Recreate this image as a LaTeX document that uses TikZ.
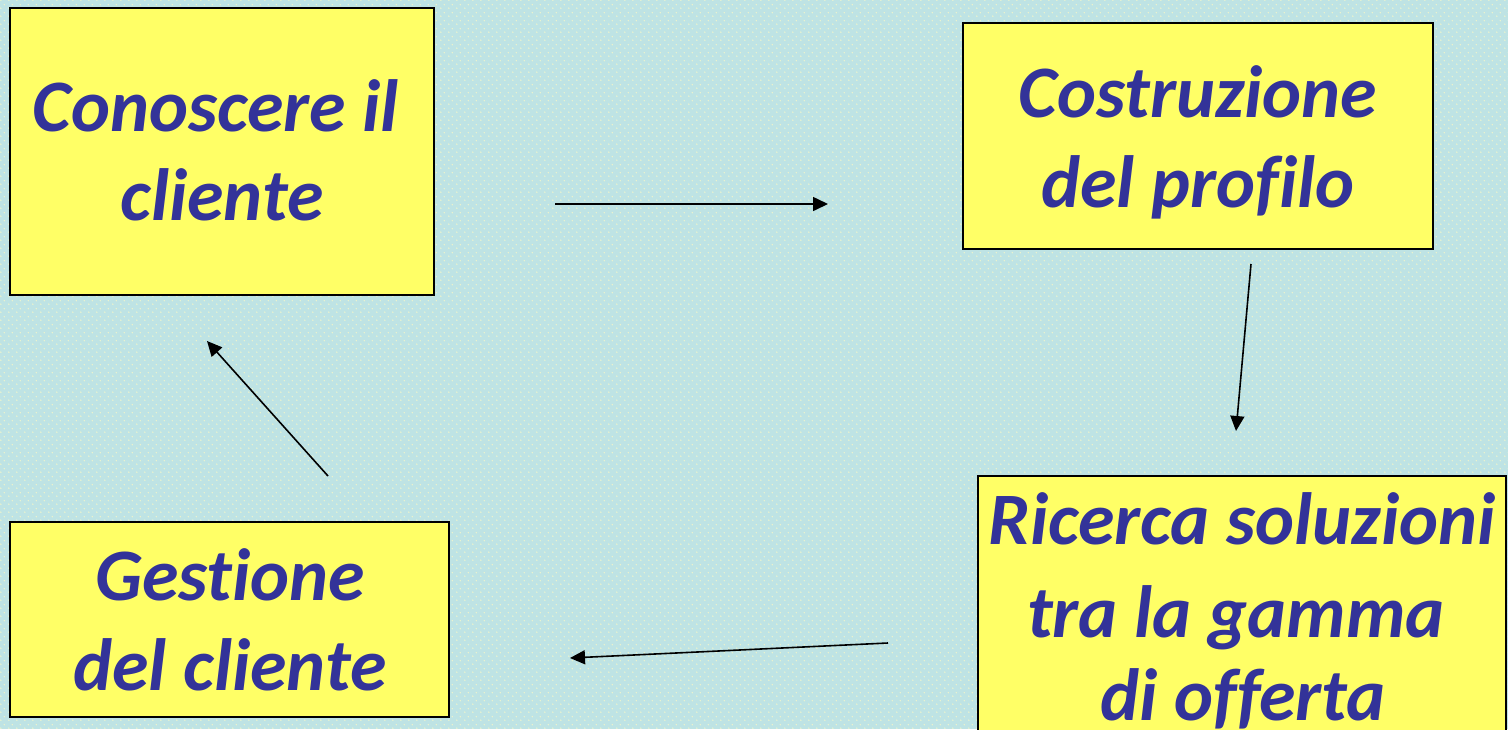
\documentclass[tikz,border=0pt]{standalone}
\usepackage{fontspec}
\newfontfamily\boxfont{Carlito}[Ligatures=NoCommon]
\usetikzlibrary{arrows.meta,patterns.meta}

\definecolor{bgcyan}{HTML}{BEE3E4}
\definecolor{dotyellow}{HTML}{EEF4CC}
\definecolor{boxyellow}{HTML}{FFFF66}
\definecolor{textblue}{HTML}{333399}

% light dotted texture of the backdrop
\tikzdeclarepattern{
  name=bgdots,
  type=colored,
  bottom left={(0pt,0pt)},
  top right={(8pt,8pt)},
  tile size={(8pt,8pt)},
  code={
    \fill[dotyellow] (2pt,2pt) circle (0.85pt);
    \fill[dotyellow] (6pt,6pt) circle (0.85pt);
  }
}

\tikzset{
  stagebox/.style={draw=black, line width=1.8pt, fill=boxyellow},
  stagetext/.style={anchor=base, text=textblue, inner sep=0pt,
    font=\boxfont\bfseries\itshape\fontsize{74}{89}\selectfont},
  flow/.style={line width=1.6pt, -{Triangle[length=15pt,width=14pt]}}
}

\begin{document}
\begin{tikzpicture}[x=1pt,y=-1pt]
  % backdrop
  \fill[bgcyan] (0,0) rectangle (1508,729);
  \fill[pattern=bgdots] (0,0) rectangle (1508,729);
  \useasboundingbox (0,0) rectangle (1508,729);

  % stage boxes
  \draw[stagebox] (10,8) rectangle (434,295);
  \draw[stagebox] (963,23) rectangle (1433,249);
  \draw[stagebox] (978,476) rectangle (1506,760);
  \draw[stagebox] (10,522) rectangle (449,717);

  % stage labels
  \node[stagetext] (know1) at (216,131) {Conoscere il};
  \node[stagetext] (know2) at (222,220) {cliente};
  \node[stagetext] (prof1) at (1198,117) {Costruzione};
  \node[stagetext] (prof2) at (1198,207) {del profilo};
  \node[stagetext] (srch1) at (1242,544) {Ricerca soluzioni};
  \node[stagetext] (srch2) at (1236,637) {tra la gamma};
  \node[stagetext] (srch3) at (1243,720) {di offerta};
  \node[stagetext] (mng1) at (230,600) {Gestione};
  \node[stagetext] (mng2) at (230,690) {del cliente};

  % arrow end points
  \coordinate (a1s) at (555,204);
  \coordinate (a1e) at (828,204);
  \coordinate (a2s) at (1251,264);
  \coordinate (a2e) at (1236,431);
  \coordinate (a3s) at (888,643);
  \coordinate (a3e) at (570,658);
  \coordinate (a4s) at (328,476);
  \coordinate (a4e) at (207,341);

  % cycle arrows
  \draw[flow] (a1s) -- (a1e);
  \draw[flow] (a2s) -- (a2e);
  \draw[flow] (a3s) -- (a3e);
  \draw[flow] (a4s) -- (a4e);
\end{tikzpicture}
\end{document}
